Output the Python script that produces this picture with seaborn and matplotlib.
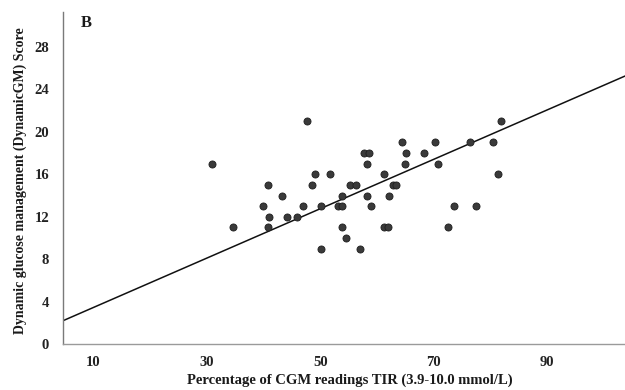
import matplotlib
matplotlib.use("Agg")
import matplotlib.pyplot as plt
import numpy as np
import pandas as pd
import seaborn as sns

# Percentage of CGM readings in range (TIR, %) and DynamicGM score per participant
tir = [31.0, 34.7, 40.0, 40.9, 40.9, 41.0, 43.3, 44.2, 45.9,
       47.0, 47.7, 48.6, 49.1, 50.1, 50.1, 51.7, 53.2, 53.9, 53.9,
       53.9, 54.5, 55.2, 56.4, 57.0, 57.7, 58.2, 58.2, 58.6, 58.9,
       61.3, 61.3, 61.9, 62.2, 62.9, 63.3, 64.5, 64.9, 65.2,
       68.3, 70.3, 70.8, 72.6, 73.6, 76.4, 77.4, 80.4, 81.3, 81.8]
score = [17, 11, 13, 15, 11, 12, 14, 12, 12,
         13, 21, 15, 16, 13, 9, 16, 13, 14, 13,
         11, 10, 15, 15, 9, 18, 17, 14, 18, 13,
         16, 11, 11, 14, 15, 15, 19, 17, 18,
         18, 19, 17, 11, 13, 19, 13, 19, 16, 21]

# Linear trend line: score = intercept + slope * TIR
trend_intercept = 1.1
trend_slope = 0.233

x_ticks = [10, 30, 50, 70, 90]
y_ticks = [0, 4, 8, 12, 16, 20, 24, 28]
x_limits = (4.7, 103.7)
y_limits = (0, 31.3)

df = pd.DataFrame({"tir": tir, "score": score})

sns.set_theme(style="white")
plt.rcParams["font.family"] = ["Liberation Serif", "DejaVu Serif"]

W, H = 625, 390
fig = plt.figure(figsize=(W / 100, H / 100), dpi=100)
ax = fig.add_axes([63 / W, 1 - 344 / H, 1 - 63 / W, (344 - 12) / H])

sns.scatterplot(data=df, x="tir", y="score", ax=ax, s=26,
                color="#3a3a3a", edgecolor="#1e1e1e", linewidth=0.6,
                zorder=3)

trend_x = np.array(x_limits)
trend = pd.DataFrame({"tir": trend_x,
                      "score": trend_intercept + trend_slope * trend_x})
sns.lineplot(data=trend, x="tir", y="score", ax=ax, color="#111111",
             linewidth=1.1, zorder=2)

ax.set_xlim(*x_limits)
ax.set_ylim(*y_limits)
ax.set_xticks(x_ticks)
ax.set_yticks(y_ticks)
ax.tick_params(axis="both", length=0, labelsize=10.5, colors="#222222")
ax.tick_params(axis="x", pad=9)
ax.tick_params(axis="y", pad=10)
for lab in ax.get_xticklabels() + ax.get_yticklabels():
    lab.set_fontweight("bold")

for side in ("top", "right"):
    ax.spines[side].set_visible(False)
ax.spines["left"].set_color("#7a7a7a")
ax.spines["left"].set_linewidth(1.0)
ax.spines["bottom"].set_color("#9a9a9a")
ax.spines["bottom"].set_linewidth(1.0)

ax.set_xlabel("Percentage of CGM readings TIR (3.9-10.0 mmol/L)",
              fontsize=10.5, fontweight="bold", color="#1a1a1a",
              va="center")
ax.xaxis.set_label_coords((350 - 63) / 562, (344 - 380) / 332)
ax.set_ylabel("Dynamic glucose management (DynamicGM) Score",
              fontsize=10, fontweight="bold", color="#1a1a1a",
              va="center")
ax.yaxis.set_label_coords((20 - 63) / 562, (344 - 181) / 332)

fig.text(86 / W, 1 - 23 / H, "B", fontsize=12, fontweight="bold",
         color="#1a1a1a", ha="center", va="center")

fig.savefig("out.png", dpi=100, facecolor="white")
